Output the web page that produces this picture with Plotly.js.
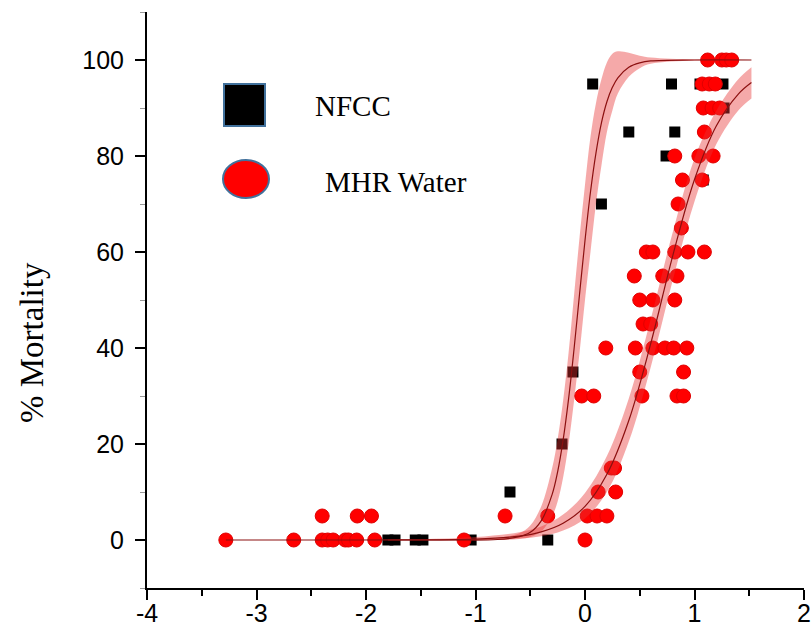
<!DOCTYPE html>
<html><head><meta charset="utf-8">
<script src="https://cdn.plot.ly/plotly-3.0.1.min.js"></script>
<style>html,body{margin:0;padding:0;background:#fff}#chart{width:812px;height:638px}</style>
</head><body><div id="chart"></div>
<script>
// NFCC observed points (squares)
const nfccX = [-1.80, -1.735, -1.55, -1.48, -1.04, -0.685, -0.34, -0.21, -0.11, 0.15, 0.07, 0.40, 0.74, 0.82, 0.79, 1.05, 1.26, 1.27, 1.08];
const nfccY = [0, 0, 0, 0, 0, 10, 0, 20, 35, 70, 95, 85, 80, 85, 95, 95, 95, 90, 75];

// MHR Water observed points (circles)
const mhrX = [-3.28, -2.66, -2.40, -2.35, -2.30, -2.19, -2.16, -2.085, -1.92, -1.105, 0.0,
  -2.40, -2.08, -1.95, -0.73, -0.34, 0.02, 0.11, 0.20,
  0.12, 0.28,
  0.24, 0.27,
  -0.03, 0.08, 0.52, 0.84, 0.90,
  0.50, 0.90,
  0.19, 0.46, 0.62, 0.73, 0.81, 0.93,
  0.53, 0.60,
  0.50, 0.62, 0.82,
  0.45, 0.71, 0.84,
  0.56, 0.62, 0.82, 0.94, 1.09,
  0.88,
  0.85,
  0.89, 1.07,
  0.82, 1.04, 1.17,
  1.09,
  1.08, 1.16, 1.23,
  1.07, 1.135, 1.19,
  1.12, 1.25, 1.29, 1.34];
const mhrY = [0, 0, 0, 0, 0, 0, 0, 0, 0, 0, 0,
  5, 5, 5, 5, 5, 5, 5, 5,
  10, 10,
  15, 15,
  30, 30, 30, 30, 30,
  35, 35,
  40, 40, 40, 40, 40, 40,
  45, 45,
  50, 50, 50,
  55, 55, 55,
  60, 60, 60, 60, 60,
  65,
  70,
  75, 75,
  80, 80, 80,
  85,
  90, 90, 90,
  95, 95, 95,
  100, 100, 100, 100];

// NFCC fitted curve and confidence band
const nfccFitX  = [-1.8, -1.2, -0.8, -0.6, -0.5, -0.4, -0.3, -0.25, -0.2, -0.15, -0.1, -0.05, 0, 0.05, 0.1, 0.15, 0.2, 0.25, 0.3, 0.4, 0.5, 0.6, 1.0, 1.52];
const nfccFitY  = [0, 0, 0.1, 0.7, 1.6, 4.0, 9.5, 14.2, 20.8, 29.4, 39.8, 51.2, 62.4, 72.5, 80.6, 86.9, 91.3, 94.3, 96.3, 98.5, 99.4, 99.8, 100, 100];
const nfccLower = [0, 0, 0, 0.2, 0.6, 1.8, 5, 8, 13, 20, 29, 39, 50, 60, 70, 78, 85, 89.5, 93, 96.5, 98.3, 99.2, 99.9, 100];
const nfccUpper = [0, 0.1, 0.4, 1.4, 3.0, 7, 15, 21, 29, 39, 51, 63, 74, 84, 91, 96, 99.5, 101.3, 101.8, 101.5, 100.9, 100.5, 100.1, 100];

// MHR Water fitted curve and confidence band
const mhrFitX  = [-3.28, -2, -1.5, -1.0, -0.6, -0.4, -0.2, 0, 0.2, 0.4, 0.6, 0.8, 1.0, 1.2, 1.4, 1.52];
const mhrFitY  = [0, 0, 0.03, 0.2, 0.8, 1.7, 3.5, 7.0, 13.7, 24.9, 40.9, 59.1, 75.1, 86.3, 92.9, 95.3];
const mhrLower = [0, 0, 0, 0, 0.3, 0.8, 2.0, 4.5, 10, 20.5, 36, 54, 70.5, 82.5, 89.5, 92];
const mhrUpper = [0, 0.05, 0.15, 0.6, 1.6, 2.8, 5.3, 9.8, 17.5, 29.5, 46, 64, 79.5, 89.5, 96, 98.5];

const xTickVals = [-4, -3, -2, -1, 0, 1, 2];
const xTickText = ['-4', '-3', '-2', '-1', '0', '1', '2'];
const yTickVals = [0, 20, 40, 60, 80, 100];
const yTickText = ['0', '20', '40', '60', '80', '100'];
const legendLabels = ['NFCC', 'MHR Water'];
const yTitle = '% Mortality';

const bandColor = 'rgba(232,50,50,0.42)';
const fitColor = '#8b1010';

const traces = [
  {x: nfccX, y: nfccY, type: 'scatter', mode: 'markers',
   marker: {symbol: 'square', size: 11, color: '#000'}, showlegend: false, hoverinfo: 'skip'},
  {x: mhrX, y: mhrY, type: 'scatter', mode: 'markers',
   marker: {symbol: 'circle', size: 14, color: '#ff0000', line: {color: '#e00000', width: 1}}, showlegend: false, hoverinfo: 'skip'},
  {x: nfccFitX, y: nfccLower, type: 'scatter', mode: 'lines', line: {width: 0, shape: 'spline'}, showlegend: false, hoverinfo: 'skip'},
  {x: nfccFitX, y: nfccUpper, type: 'scatter', mode: 'lines', line: {width: 0, shape: 'spline'}, fill: 'tonexty', fillcolor: bandColor, showlegend: false, hoverinfo: 'skip'},
  {x: mhrFitX, y: mhrLower, type: 'scatter', mode: 'lines', line: {width: 0, shape: 'spline'}, showlegend: false, hoverinfo: 'skip'},
  {x: mhrFitX, y: mhrUpper, type: 'scatter', mode: 'lines', line: {width: 0, shape: 'spline'}, fill: 'tonexty', fillcolor: bandColor, showlegend: false, hoverinfo: 'skip'},
  {x: nfccFitX, y: nfccFitY, type: 'scatter', mode: 'lines', line: {width: 1.2, color: fitColor, shape: 'spline'}, showlegend: false, hoverinfo: 'skip'},
  {x: mhrFitX, y: mhrFitY, type: 'scatter', mode: 'lines', line: {width: 1.2, color: fitColor, shape: 'spline'}, showlegend: false, hoverinfo: 'skip'}
];

const L = 147, R = 804, T = 12, B = 588;
const W = R - L, H = B - T;
const px = v => (v - L) / W;
const py = v => (B - v) / H;

const layout = {
  width: 812, height: 638,
  margin: {l: L, r: 812 - R, t: T, b: 638 - B},
  paper_bgcolor: '#fff', plot_bgcolor: '#fff',
  showlegend: false,
  font: {family: 'Liberation Sans, Arial, sans-serif', color: '#000'},
  xaxis: {
    range: [-4, 2], tickvals: xTickVals, ticktext: xTickText,
    showline: true, linecolor: '#000', linewidth: 2, mirror: false,
    ticks: 'outside', ticklen: 10, tickwidth: 2, tickcolor: '#000',
    minor: {dtick: 0.5, tick0: 0, ticks: 'outside', ticklen: 6, tickwidth: 2, tickcolor: '#000', showgrid: false},
    showgrid: false, zeroline: false,
    tickfont: {size: 25, family: 'Liberation Sans, Arial, sans-serif', color: '#000'},
    ticklabelstandoff: -8
  },
  yaxis: {
    range: [-10, 110], tickvals: yTickVals, ticktext: yTickText,
    showline: true, linecolor: '#000', linewidth: 2, mirror: false,
    ticks: 'outside', ticklen: 10, tickwidth: 2, tickcolor: '#000',
    minor: {dtick: 10, tick0: 0, ticks: 'outside', ticklen: 5, tickwidth: 1, tickcolor: '#999', showgrid: false},
    showgrid: false, zeroline: false,
    tickfont: {size: 25, family: 'Liberation Sans, Arial, sans-serif', color: '#000'},
    ticklabelstandoff: 6
  },
  shapes: [
    {type: 'rect', xref: 'paper', yref: 'paper', x0: px(224), x1: px(265), y0: py(126), y1: py(84),
     fillcolor: '#000', line: {color: '#41719c', width: 2}},
    {type: 'circle', xref: 'paper', yref: 'paper', x0: px(223), x1: px(269), y0: py(198), y1: py(160),
     fillcolor: '#ff0000', line: {color: '#41719c', width: 2}}
  ],
  annotations: [
    {text: legendLabels[0], xref: 'paper', yref: 'paper', x: px(313), y: py(106), xanchor: 'left', yanchor: 'middle',
     showarrow: false, font: {family: 'Liberation Serif, Times New Roman, serif', size: 29, color: '#000'}},
    {text: legendLabels[1], xref: 'paper', yref: 'paper', x: px(323), y: py(182), xanchor: 'left', yanchor: 'middle',
     showarrow: false, font: {family: 'Liberation Serif, Times New Roman, serif', size: 29, color: '#000'}},
    {text: yTitle, xref: 'paper', yref: 'paper', x: px(32), y: py(343), xanchor: 'center', yanchor: 'middle',
     textangle: -90, showarrow: false, font: {family: 'Liberation Serif, Times New Roman, serif', size: 33, color: '#000'}}
  ]
};

Plotly.newPlot('chart', traces, layout, {staticPlot: true, displayModeBar: false});
</script>
</body></html>
